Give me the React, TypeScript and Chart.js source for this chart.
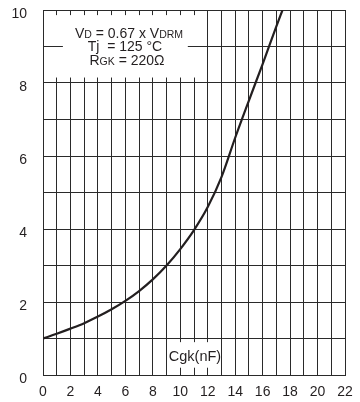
import { useEffect, useRef } from 'react';
import { Chart, registerables } from 'chart.js';

Chart.register(...registerables);

// Gate-cathode capacitance (nF) and the gate trigger voltage read on the curve
const cgkNf = [0, 1, 2, 3, 4, 5, 6, 7, 8, 9, 10, 11, 12, 13, 14, 15, 16, 17, 17.45];
const triggerLevel = [1.0, 1.13, 1.27, 1.42, 1.6, 1.8, 2.03, 2.3, 2.62, 3.0, 3.45, 3.97, 4.6, 5.42, 6.5, 7.52, 8.52, 9.55, 10.0];

const xRange = [0, 22];
const yRange = [0, 10];

const FONT = '"Liberation Sans", Arial, sans-serif';
const INK = '#231f20';
const GRID = '#2a2a2a';

type Run = [string, number];

function drawRuns(ctx: CanvasRenderingContext2D, runs: Run[], cx: number, baseline: number) {
  let total = 0;
  const widths = runs.map(([t, s]) => {
    ctx.font = `${s}px ${FONT}`;
    const w = ctx.measureText(t).width;
    total += w;
    return w;
  });
  let xPos = cx - total / 2;
  ctx.textAlign = 'left';
  ctx.textBaseline = 'alphabetic';
  runs.forEach(([t, s], i) => {
    ctx.font = `${s}px ${FONT}`;
    ctx.fillText(t, xPos, baseline);
    xPos += widths[i];
  });
}

const notesPlugin = {
  id: 'notes',
  beforeDatasetsDraw(chart: any) {
    const { ctx, scales, chartArea } = chart;
    const x = scales.x;
    const y = scales.y;
    ctx.save();
    ctx.fillStyle = '#ffffff';

    // clear the panel behind the test conditions
    const l = x.getPixelForValue(0.4);
    const r = x.getPixelForValue(11.5);
    const t = y.getPixelForValue(9.86);
    const b = y.getPixelForValue(8.15);
    ctx.fillRect(l, t, r - l, b - t);

    // the grid line at 9 stays visible beside the text
    ctx.strokeStyle = GRID;
    ctx.lineWidth = 1;
    const y9 = Math.round(y.getPixelForValue(9)) + 0.5;
    ctx.beginPath();
    ctx.moveTo(chartArea.left, y9);
    ctx.lineTo(x.getPixelForValue(1.45), y9);
    ctx.moveTo(x.getPixelForValue(10.55), y9);
    ctx.lineTo(r + 1, y9);
    ctx.stroke();

    // clear the panel behind the axis caption
    const cl = x.getPixelForValue(9.2);
    const cr = x.getPixelForValue(12.8);
    const ct = y.getPixelForValue(0.9);
    const cb = y.getPixelForValue(0.2);
    ctx.fillRect(cl, ct, cr - cl, cb - ct);

    ctx.fillStyle = INK;
    const line = (v: number) => y.getPixelForValue(v);
    drawRuns(ctx, [['V', 14], ['D', 10.5], [' = 0.67 x V', 14], ['DRM', 10.5]], 129, line(9.25) + 0.5);
    drawRuns(ctx, [['Tj  = 125 °C', 14]], 125, line(8.87));
    drawRuns(ctx, [['R', 14], ['GK', 10.5], [' = 220Ω', 14]], 127, line(8.49));
    drawRuns(ctx, [['Cgk(nF)', 14.5]], 195, line(0.37));
    ctx.restore();
  },
};

const zeroPadding = (s: any) => {
  s.paddingTop = 0;
  s.paddingBottom = 0;
  s.paddingLeft = 0;
  s.paddingRight = 0;
};

export default function App() {
  const canvasRef = useRef<HTMLCanvasElement | null>(null);

  useEffect(() => {
    if (!canvasRef.current) return;
    const chart = new Chart(canvasRef.current, {
      type: 'line',
      data: {
        datasets: [
          {
            data: cgkNf.map((c, i) => ({ x: c, y: triggerLevel[i] })),
            borderColor: INK,
            borderWidth: 2.2,
            pointRadius: 0,
            cubicInterpolationMode: 'monotone',
            fill: false,
          },
        ],
      },
      options: {
        animation: false,
        responsive: true,
        maintainAspectRatio: false,
        layout: { padding: { top: 10, right: 15, left: 0, bottom: 0 } },
        plugins: { legend: { display: false }, tooltip: { enabled: false } },
        scales: {
          x: {
            type: 'linear',
            min: xRange[0],
            max: xRange[1],
            afterFit: (s: any) => {
              s.height = 27;
              zeroPadding(s);
            },
            border: { display: true, color: GRID, width: 1 },
            grid: { color: GRID, lineWidth: 1, drawTicks: false },
            ticks: {
              stepSize: 1,
              autoSkip: false,
              maxRotation: 0,
              padding: 9,
              color: INK,
              font: { family: FONT, size: 14 },
              callback: (v: any) => (Number(v) % 2 === 0 ? String(v) : ''),
            },
          },
          y: {
            type: 'linear',
            min: yRange[0],
            max: yRange[1],
            afterFit: (s: any) => {
              s.width = 43;
              zeroPadding(s);
            },
            border: { display: true, color: GRID, width: 1 },
            grid: { color: GRID, lineWidth: 1, drawTicks: false },
            ticks: {
              stepSize: 1,
              autoSkip: false,
              padding: 16,
              labelOffset: 4,
              color: INK,
              font: { family: FONT, size: 14 },
              callback: (v: any) => (Number(v) % 2 === 0 ? String(v) : ''),
            },
          },
        },
      },
      plugins: [notesPlugin],
    } as any);
    return () => chart.destroy();
  }, []);

  return (
    <div style={{ position: 'fixed', left: 0, top: 0, width: 360, height: 402, background: '#fff' }}>
      <canvas ref={canvasRef} />
    </div>
  );
}
